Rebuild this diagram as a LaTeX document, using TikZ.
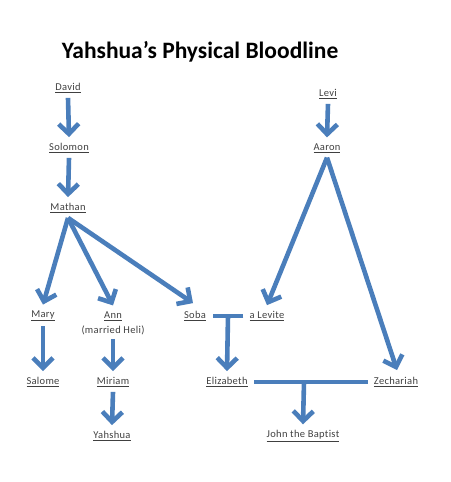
\documentclass[tikz,border=0pt]{standalone}
\usepackage{fontspec}
\setmainfont{Carlito}[Ligatures=NoCommon]
\newfontfamily\namefont{Carlito}[LetterSpace=3,Ligatures=NoCommon]
\usetikzlibrary{arrows.meta}
\definecolor{oblue}{HTML}{4A7EBB}
\definecolor{tgray}{HTML}{404040}
\tikzset{
  person/.style={text=tgray, font=\namefont\fontsize{10.5}{12}\selectfont, inner sep=1pt},
  link/.style={draw=oblue, line width=4.6pt, line cap=butt},
  arr/.style={link, -{Straight Barb[length=10pt,width=20pt,line width=4.6pt]}},
}
\newcommand{\nm}[1]{\underline{#1}}
\begin{document}
\begin{tikzpicture}[x=1pt,y=-1pt]
\useasboundingbox (0,0) rectangle (450,482);
\node[font=\bfseries\fontsize{23.5}{26}\selectfont, text=black] (title) at (200,52) {Yahshua’s Physical Bloodline};
\node[person] (david) at (68,88) {\nm{David}};
\node[person] (solomon) at (69,148) {\nm{Solomon}};
\node[person] (mathan) at (68,208) {\nm{Mathan}};
\node[person] (mary) at (43,316) {\nm{Mary}};
\node[person] (ann) at (113,316) {\nm{Ann}};
\node[person] (heli) at (113,330) {(married Heli)};
\node[person] (soba) at (195,316) {\nm{Soba}};
\node[person] (levite) at (267,316) {\nm{a Levite}};
\node[person] (salome) at (43,382) {\nm{Salome}};
\node[person] (miriam) at (113,382) {\nm{Miriam}};
\node[person] (yahshua) at (112,436) {\nm{Yahshua}};
\node[person] (elizabeth) at (227,382) {\nm{Elizabeth}};
\node[person] (zechariah) at (396,382) {\nm{Zechariah}};
\node[person] (john) at (303,436) {\nm{John the Baptist}};
\node[person] (levi) at (328,94) {\nm{Levi}};
\node[person] (aaron) at (327,148) {\nm{Aaron}};
\coordinate (m1) at (228,316);
\coordinate (m2) at (304,382);
% connectors
\draw[arr] ([yshift=-4pt]david.south) -- ([yshift=5pt]solomon.north);
\draw[arr] ([yshift=-4pt]solomon.south) -- ([yshift=5pt]mathan.north);
\draw[arr] ([yshift=-4pt]levi.south) -- ([yshift=5pt]aaron.north);
\draw[arr] ([yshift=-4pt]mathan.south) -- ([yshift=5pt]mary.north);
\draw[arr] ([yshift=-4pt]mathan.south) -- ([yshift=5pt]ann.north);
\draw[arr] ([yshift=-4pt]mathan.south) -- ([xshift=-2pt,yshift=7pt]soba.north);
\draw[arr] ([yshift=-4pt]aaron.south) -- ([yshift=5pt]levite.north);
\draw[arr] ([yshift=-4pt]aaron.south) -- ([xshift=1pt,yshift=6pt]zechariah.north);
\draw[arr] ([yshift=-4pt]mary.south) -- ([yshift=5pt]salome.north);
\draw[arr] ([yshift=-3pt]heli.south) -- ([yshift=5pt]miriam.north);
\draw[arr] ([yshift=-4pt]miriam.south) -- ([yshift=5pt]yahshua.north);
\draw[link] ([xshift=-5pt]levite.west) -- ([xshift=6pt]soba.east);
\draw[arr] (m1) -- ([yshift=5pt]elizabeth.north);
\draw[link] ([xshift=-5pt]zechariah.west) -- ([xshift=5pt]elizabeth.east);
\draw[arr] (m2) -- ([yshift=5pt]john.north);
\end{tikzpicture}
\end{document}
